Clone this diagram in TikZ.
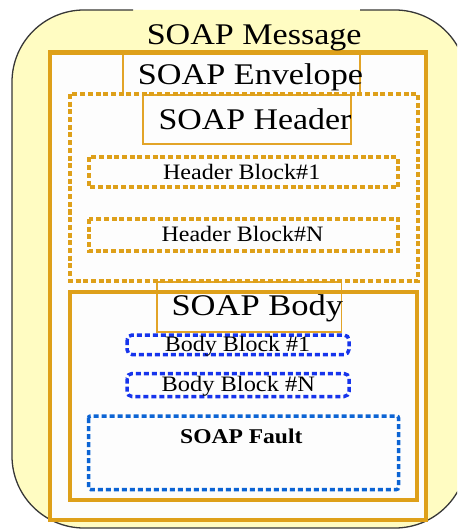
\documentclass[tikz,border=0pt]{standalone}
\usepackage{fontspec}
\setmainfont{Liberation Serif}
\usepackage{graphicx}

\definecolor{soapgold}{RGB}{222,160,26}
\definecolor{soapthin}{RGB}{226,164,40}
\definecolor{msgyellow}{RGB}{255,252,194}
\definecolor{msgedge}{RGB}{55,55,55}
\definecolor{blockblue}{RGB}{22,52,236}
\definecolor{faultblue}{RGB}{12,100,212}
\definecolor{paper}{RGB}{253,253,253}

\newcommand{\widetext}[2]{\scalebox{#1}[1]{#2}}

\tikzset{
  solidbox/.style={draw=soapgold, line width=4.5pt},
  dotbox/.style={draw=soapgold, line width=4pt, dash pattern=on 5pt off 2.7pt},
  bluebox/.style={draw=blockblue, line width=3.5pt, dash pattern=on 5pt off 3pt, rounded corners=5pt},
  faultbox/.style={draw=faultblue, line width=3.5pt, dash pattern=on 5pt off 3pt, rounded corners=2pt},
  thinbox/.style={draw=soapthin, line width=1.3pt},
  bigtitle/.style={anchor=base, inner sep=0pt, font=\fontsize{30}{32}\selectfont},
  blocktext/.style={anchor=base, inner sep=0pt, font=\fontsize{22}{24}\selectfont},
}

\begin{document}
\begin{tikzpicture}[x=1pt, y=-1pt]
  \useasboundingbox (0,0) rectangle (457,529);
  \clip (0,0) rectangle (457,529);

  % outer message shape (its top edge is open behind the title)
  \fill[msgyellow, rounded corners=72pt] (12,10) rectangle (467,528);
  \draw[msgedge, line width=1.3pt, rounded corners=72pt]
    (133,10) -- (12,10) -- (12,528) -- (467,528) -- (467,10) -- (360,10);

  % envelope
  \fill[paper] (50,52.5) rectangle (426,520);

  % thin frames of the title text boxes
  \draw[thinbox] (123,52.5) -- (123,93);
  \draw[thinbox] (360,52.5) -- (360,93);
  \draw[thinbox] (143,95) rectangle (351,144);
  \draw[thinbox] (157,282) rectangle (341.5,332);

  \draw[solidbox] (50,52.5) rectangle (426,520);

  % header and its blocks
  \draw[dotbox] (70,94) rectangle (418,281);
  \draw[dotbox] (89,157.5) rectangle (398,187);
  \draw[dotbox] (89,219) rectangle (398,251);

  % body and its blocks
  \draw[solidbox, line width=4pt] (70,292) rectangle (417,499.5);
  \draw[bluebox] (127,335) rectangle (349,354.5);
  \draw[bluebox] (127,373.5) rectangle (349,396.5);
  \draw[faultbox] (88.5,416) rectangle (398.5,489.5);

  % labels
  \node[bigtitle] (msgtitle) at (254.2,45) {\widetext{1.136}{SOAP Message}};
  \node[bigtitle] (envtitle) at (250.5,85) {\widetext{1.14}{SOAP Envelope}};
  \node[bigtitle] (hdrtitle) at (255,130) {\widetext{1.13}{SOAP Header}};
  \node[bigtitle] (bodytitle) at (257.3,315.7) {\widetext{1.15}{SOAP Body}};

  \node[blocktext] (hb1) at (241.7,180) {\widetext{1.095}{Header Block\#1}};
  \node[blocktext] (hbn) at (242.5,241.7) {\widetext{1.09}{Header Block\#N}};
  \node[blocktext] (bb1) at (237.5,351.7) {\widetext{1.09}{Body Block \#1}};
  \node[blocktext] (bbn) at (238.3,391.7) {\widetext{1.11}{Body Block \#N}};
  \node[anchor=base, inner sep=0pt, font=\fontsize{21}{23}\selectfont\bfseries]
    (fault) at (241.3,443.3) {\widetext{1.12}{SOAP Fault}};
\end{tikzpicture}
\end{document}
